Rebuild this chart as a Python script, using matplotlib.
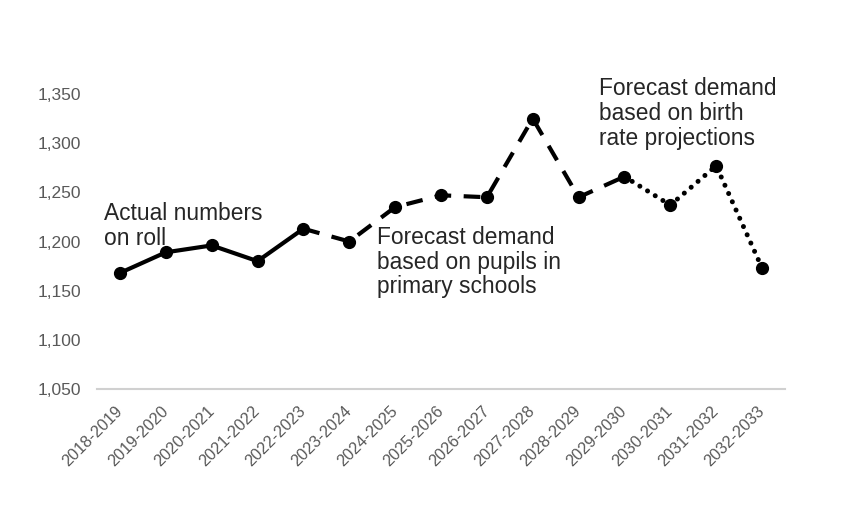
import matplotlib.pyplot as plt

# School years and pupil numbers (actual up to 2022-2023, then forecasts)
years = ["2018-2019", "2019-2020", "2020-2021", "2021-2022", "2022-2023",
         "2023-2024", "2024-2025", "2025-2026", "2026-2027", "2027-2028",
         "2028-2029", "2029-2030", "2030-2031", "2031-2032", "2032-2033"]
pupils = [1168, 1189, 1196, 1180, 1213,
          1200, 1235, 1247, 1245, 1325,
          1245, 1266, 1237, 1277, 1173]

# where each series starts/ends (index into years)
actual_end = 4
pupil_forecast_end = 11

plt.rcParams['font.family'] = ['Liberation Sans', 'DejaVu Sans']

fig = plt.figure(figsize=(8.5, 5.12), dpi=100)
ax = fig.add_axes([97 / 850, 1 - 389 / 512, (785 - 97) / 850, (389 - 94) / 512])

x = list(range(len(years)))
lw = 3.0

# actual numbers on roll - solid
ax.plot(x[:actual_end + 1], pupils[:actual_end + 1], color='black', lw=lw,
        solid_capstyle='round', zorder=3)
# forecast from primary pupils - dashed
ax.plot(x[actual_end:pupil_forecast_end + 1], pupils[actual_end:pupil_forecast_end + 1],
        color='black', lw=lw, linestyle=(0, (4.0, 3.0)), zorder=3)
# forecast from birth rate - dotted
ax.plot(x[pupil_forecast_end:], pupils[pupil_forecast_end:], color='black', lw=3.6,
        linestyle=(0, (0.01, 1.8)), dash_capstyle='round', zorder=3)
ax.plot(x, pupils, linestyle='none', marker='o', markersize=8.5, color='black', zorder=4)

ax.set_xlim(-0.5, len(years) - 0.5)
ax.set_ylim(1050, 1350)
ax.set_yticks(range(1050, 1351, 50))
ax.set_yticklabels([f"{v:,}" for v in range(1050, 1351, 50)])
ax.set_xticks(x)
ax.set_xticklabels(years, rotation=45, ha='right', va='center', rotation_mode='anchor')

ax.tick_params(axis='y', length=0, labelsize=12.5, labelcolor='#595959', pad=11.5)
ax.tick_params(axis='x', length=0, labelsize=11.7, labelcolor='#595959', pad=14)
for side in ['top', 'right', 'left']:
    ax.spines[side].set_visible(False)
ax.spines['bottom'].set_color('#d0d0d0')
ax.spines['bottom'].set_linewidth(1.5)

txt = dict(fontsize=16.4, color='#262626', ha='left', va='center', linespacing=1.1)
ax.text(-0.35, 1216, "Actual numbers\non roll", **txt)
ax.text(5.6, 1179, "Forecast demand\nbased on pupils in\nprimary schools", **txt)
ax.text(10.44, 1330, "Forecast demand\nbased on birth\nrate projections", clip_on=False, **txt)

fig.savefig("out.png", dpi=100)
